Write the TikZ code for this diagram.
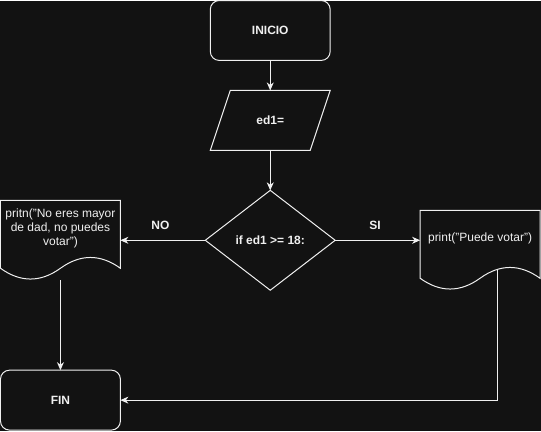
\documentclass[tikz,border=0pt]{standalone}
\usepackage{fontspec}
\setmainfont{Liberation Sans}
\usetikzlibrary{shapes.geometric, arrows.meta, calc}

\definecolor{bgc}{HTML}{121212}
\definecolor{fgc}{HTML}{F0F0F0}

% outline of a document node: straight top, wavy bottom
\newcommand\docshape[1]{%
  \draw [line] (#1.north west) -- (#1.north east) -- ($(#1.north west)+(120,68)$)
    .. controls ($(#1.north west)+(100,53.6)$) and ($(#1.north west)+(80,53.6)$) .. ($(#1.north west)+(60,68)$)
    .. controls ($(#1.north west)+(40,82.4)$) and ($(#1.north west)+(20,82.4)$) .. ($(#1.north west)+(0,68)$)
    -- cycle;}

\begin{document}
\begin{tikzpicture}[x=1pt, y=-1pt]
\tikzset{ >={Stealth[length=8pt, width=7pt, inset=2.5pt]}, inner sep=0pt, outer sep=0pt,
  every node/.style={text=fgc, font=\fontsize{12}{14.4}\selectfont},
  line/.style={draw=fgc, line width=1pt},
  flow/.style={line, ->},
  term/.style={line, rounded corners=9pt, minimum width=120pt, minimum height=60pt, font=\fontsize{12}{14.4}\selectfont\bfseries},
  inbox/.style={minimum width=120pt, minimum height=60pt, font=\fontsize{12}{14.4}\selectfont\bfseries},
  decision/.style={line, diamond, minimum width=130pt, minimum height=100pt, font=\fontsize{12}{14.4}\selectfont\bfseries},
  docbox/.style={minimum width=120pt, minimum height=56pt, align=center},
  tag/.style={font=\fontsize{12}{14.4}\selectfont\bfseries},
}

\fill [bgc] (0,0) rectangle (541,431);

\node [term] (inicio) at (270,30) {INICIO};
\node [inbox] (ed) at (270,120) {ed1=};
\node [decision] (cond) at (270,240) {if ed1 >= 18:};
\node [docbox] (no) at (60,228) {pritn("No eres mayor\\de dad, no puedes\\votar")};
\node [docbox] (si) at (480,238) {print("Puede votar")};
\node [term] (fin) at (60,400) {FIN};

\draw [line] ($(ed.north west)+(20,0)$) -- (ed.north east) -- ($(ed.south east)+(-20,0)$) -- (ed.south west) -- cycle;
\docshape{no}
\docshape{si}

\coordinate (nout) at ($(no.north)+(0,80)$);
\coordinate (sout) at ($(si.north west)+(77,59.2)$);

\draw [flow] (inicio) -- (ed);
\draw [flow] (ed) -- (cond);
\draw [flow] (cond.west) -- (cond.west -| no.east);
\draw [flow] (cond.east) -- (cond.east -| si.west);
\draw [flow] (nout) -- (fin.north);
\draw [flow] (sout) |- (fin.east);

\node [tag] (lblno) at (160,225) {NO};
\node [tag] (lblsi) at (375,225) {SI};

\end{tikzpicture}
\end{document}
